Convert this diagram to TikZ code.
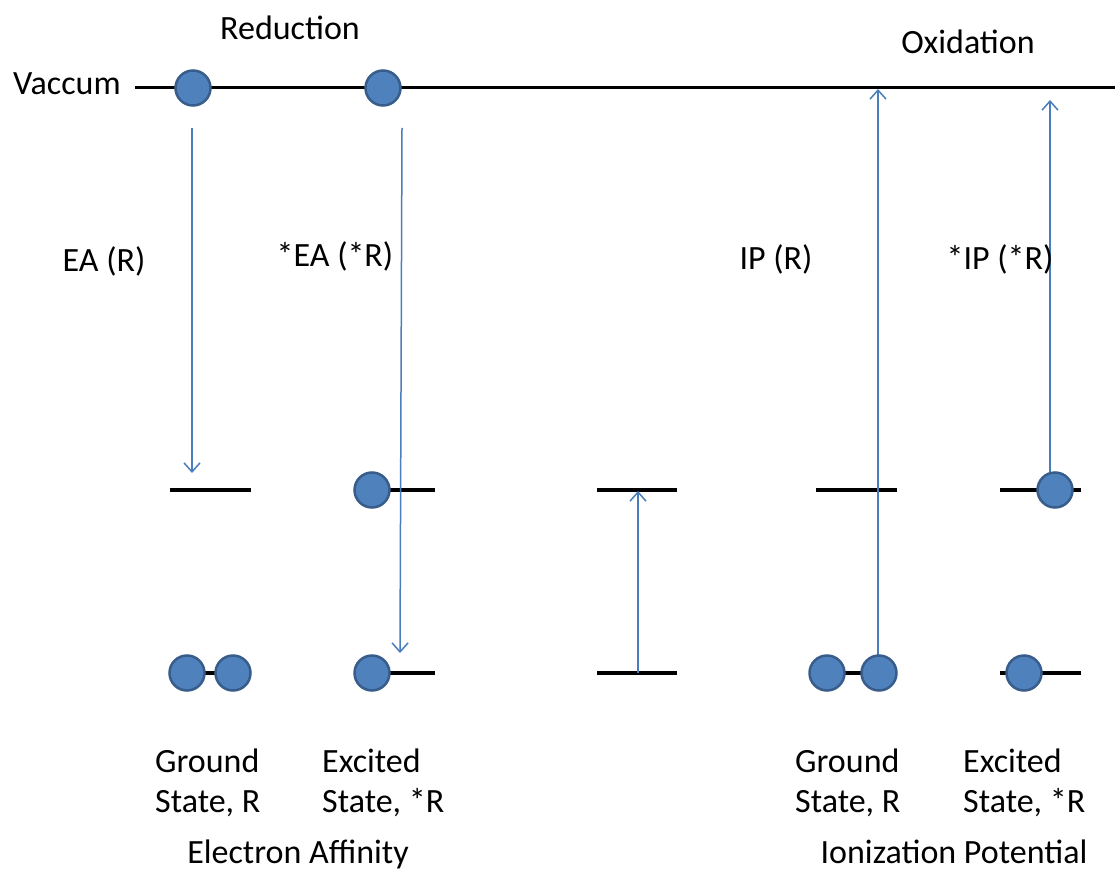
\documentclass[tikz,border=0pt]{standalone}
\usepackage{fontspec}
\setmainfont{Carlito}
\usetikzlibrary{arrows.meta}
\definecolor{eblue}{HTML}{4F81BD}
\definecolor{eborder}{HTML}{385D8A}
\definecolor{ablue}{HTML}{4A7EBB}
\begin{document}
\begin{tikzpicture}[x=1pt,y=-1pt,
  electron/.style={circle,draw=eborder,fill=eblue,line width=2.5pt,minimum size=35pt,inner sep=0pt},
  level/.style={draw=black,line width=3.5pt},
  vac/.style={draw=black,line width=3pt},
  trans/.style={draw=ablue,line width=1.5pt,-{Straight Barb[length=9pt,width=16pt]}},
  lbl/.style={font=\fontsize{34}{40}\selectfont,inner sep=0pt},
  lblL/.style={lbl,anchor=base west,align=left},
  lblC/.style={lbl,anchor=base}]
\useasboundingbox (0,0) rectangle (1115,874);

% vacuum level
\coordinate (vacL) at (135,88);
\coordinate (vacR) at (1115,88);
\draw[vac] (vacL) -- (vacR);

% energy levels
\coordinate (gLu1) at (170,490); \coordinate (gLu2) at (251,490);
\coordinate (gLl1) at (170,673); \coordinate (gLl2) at (251,673);
\coordinate (eLu1) at (355,490); \coordinate (eLu2) at (435,490);
\coordinate (eLl1) at (355,673); \coordinate (eLl2) at (435,673);
\coordinate (mu1) at (597,490); \coordinate (mu2) at (677,490);
\coordinate (ml1) at (597,673); \coordinate (ml2) at (677,673);
\coordinate (gRu1) at (816,490); \coordinate (gRu2) at (897,490);
\coordinate (gRl1) at (816,673); \coordinate (gRl2) at (897,673);
\coordinate (eRu1) at (1000,490); \coordinate (eRu2) at (1081,490);
\coordinate (eRl1) at (1000,673); \coordinate (eRl2) at (1081,673);
\foreach \a in {gLu,gLl,eLu,eLl,mu,ml,gRu,gRl,eRu,eRl}
  \draw[level] (\a1) -- (\a2);

% arrow end points
\coordinate (eaS) at (192,128); \coordinate (eaE) at (192,473);
\coordinate (seaS) at (402,128); \coordinate (seaE) at (400,653);
\coordinate (mS) at (638,673); \coordinate (mE) at (638,491);
\coordinate (ipS) at (878,673); \coordinate (ipE) at (878,89);
\coordinate (sipS) at (1050,472); \coordinate (sipE) at (1050,100);

\draw[trans] (eaS) -- (eaE);
\draw[trans] (seaS) -- (seaE);
\draw[trans] (mS) -- (mE);
\draw[trans] (ipS) -- (ipE);
\draw[trans] (sipS) -- (sipE);

% electrons
\node[electron] (v1) at (193,88) {};
\node[electron] (v2) at (383,88) {};
\node[electron] (gL1) at (187,673) {};
\node[electron] (gL2) at (233,673) {};
\node[electron] (eLu) at (372,490) {};
\node[electron] (eLl) at (372,673) {};
\node[electron] (gR1) at (827,673) {};
\node[electron] (gR2) at (879,673) {};
\node[electron] (eRu) at (1055,490) {};
\node[electron] (eRl) at (1024,673) {};

% labels
\node[lblL] (tvac) at (13,95) {Vaccum};
\node[lblC] (tred) at (290,40) {Reduction};
\node[lblC] (tox) at (968,54) {Oxidation};
\node[lblC] (tea) at (104,272) {EA (R)};
\node[lblC] (tsea) at (335,267) {*EA (*R)};
\node[lblC] (tip) at (776,270) {IP (R)};
\node[lblC] (tsip) at (1000,270) {*IP (*R)};
\node[lblL] (tgL) at (155,812) {Ground\\State, R};
\node[lblL] (teL) at (322,812) {Excited\\State, *R};
\node[lblL] (tgR) at (795,812) {Ground\\State, R};
\node[lblL] (teR) at (963,812) {Excited\\State, *R};
\node[lblC] (tEA) at (298,863) {Electron Affinity};
\node[lblC] (tIP) at (954,863) {Ionization Potential};
\end{tikzpicture}
\end{document}
